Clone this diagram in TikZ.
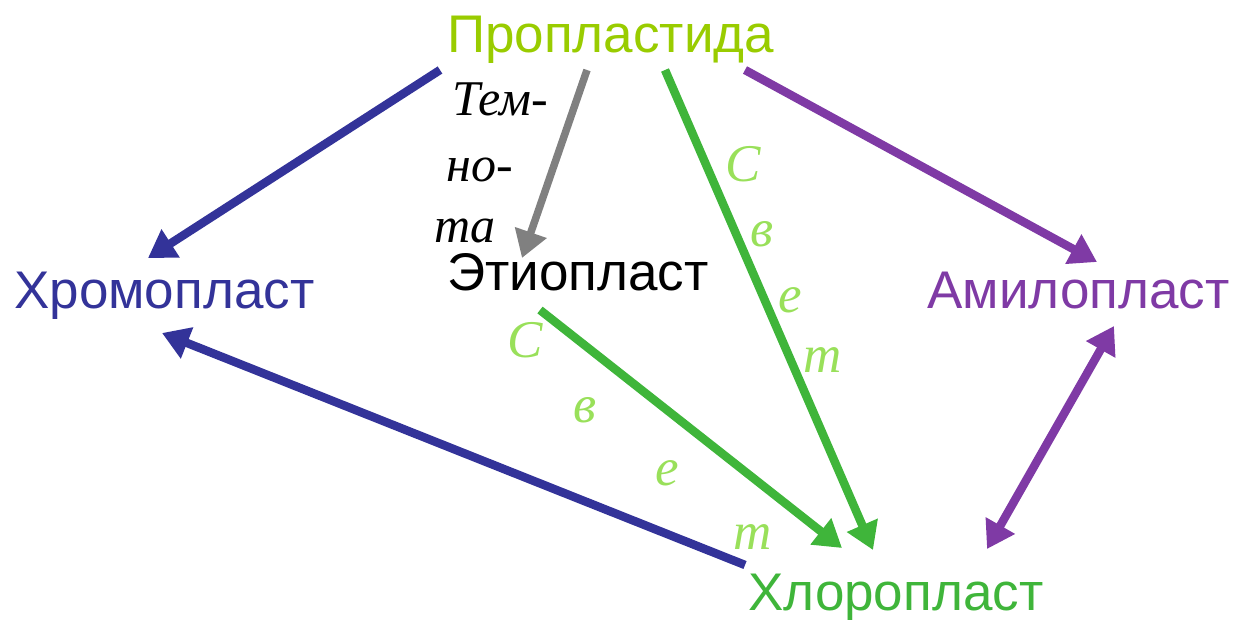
\documentclass[tikz,border=0pt]{standalone}
\usepackage{fontspec}
\setmainfont{Liberation Sans}
\newfontfamily\lblfont{Liberation Serif}
\usetikzlibrary{arrows.meta}
\definecolor{cpro}{HTML}{99CC00}
\definecolor{cblue}{HTML}{333399}
\definecolor{cpurp}{HTML}{7F3AA5}
\definecolor{cgreen}{HTML}{3FB53A}
\definecolor{clbl}{HTML}{99E05A}
\definecolor{cgray}{HTML}{808080}
\tikzset{
  plast/.style={anchor=base west, inner sep=0pt, font=\fontsize{53}{60}\selectfont},
  arr/.style={line width=8.5pt, -{Triangle[length=27pt,width=32pt]}},
  darr/.style={line width=8.5pt, {Triangle[length=27pt,width=32pt]}-{Triangle[length=27pt,width=32pt]}},
  glbl/.style={inner sep=0pt, anchor=center, text=clbl, font=\lblfont\itshape\fontsize{53}{56}\selectfont},
  blbl/.style={inner sep=0pt, anchor=base west, text=black, font=\lblfont\itshape\fontsize{50}{54}\selectfont}
}
\begin{document}
\begin{tikzpicture}[x=1pt,y=-1pt]
\useasboundingbox (0,0) rectangle (1233,620);
% nodes
\node[plast, text=cpro] (pro) at (447,53) {Пропластида};
\node[plast, text=cblue] (chr) at (14,308) {Хромопласт};
\node[plast, text=black] (eti) at (447,290) {Этиопласт};
\node[plast, text=cpurp] (ami) at (927,308) {Амилопласт};
\node[plast, text=cgreen] (chl) at (748,610) {Хлоропласт};
% endpoints
\coordinate (p1) at (440,70);
\coordinate (p2) at (587,70);
\coordinate (p3) at (665,70);
\coordinate (p4) at (745,70);
\coordinate (c1) at (148,258);
\coordinate (c2) at (162,333);
\coordinate (e1) at (522,258);
\coordinate (e2) at (540,310);
\coordinate (a1) at (1097,262);
\coordinate (a2) at (1114,326);
\coordinate (h1) at (873,550);
\coordinate (h2) at (842,548);
\coordinate (h3) at (745,565);
\coordinate (h4) at (987,549);
% connectors
\draw[arr, cblue] (p1) -- (c1);
\draw[arr, cblue] (h3) -- (c2);
\draw[arr, cgray, line width=7.5pt] (p2) -- (e1);
\draw[arr, cgreen] (p3) -- (h1);
\draw[arr, cgreen] (e2) -- (h2);
\draw[arr, cpurp] (p4) -- (a1);
\draw[darr, cpurp] (a2) -- (h4);
% labels
\node[blbl] (t1) at (452,116) {Тем-};
\node[blbl] (t2) at (446,182) {но-};
\node[blbl] (t3) at (434,243) {та};
\node[glbl] (r1) at (743,164) {С};
\node[glbl] (r2) at (762,234) {в};
\node[glbl] (r3) at (790,300) {е};
\node[glbl] (r4) at (823,360) {т};
\node[glbl] (l1) at (525,340) {С};
\node[glbl] (l2) at (585,410) {в};
\node[glbl] (l3) at (667,473) {е};
\node[glbl] (l4) at (753,537) {т};
\end{tikzpicture}
\end{document}
